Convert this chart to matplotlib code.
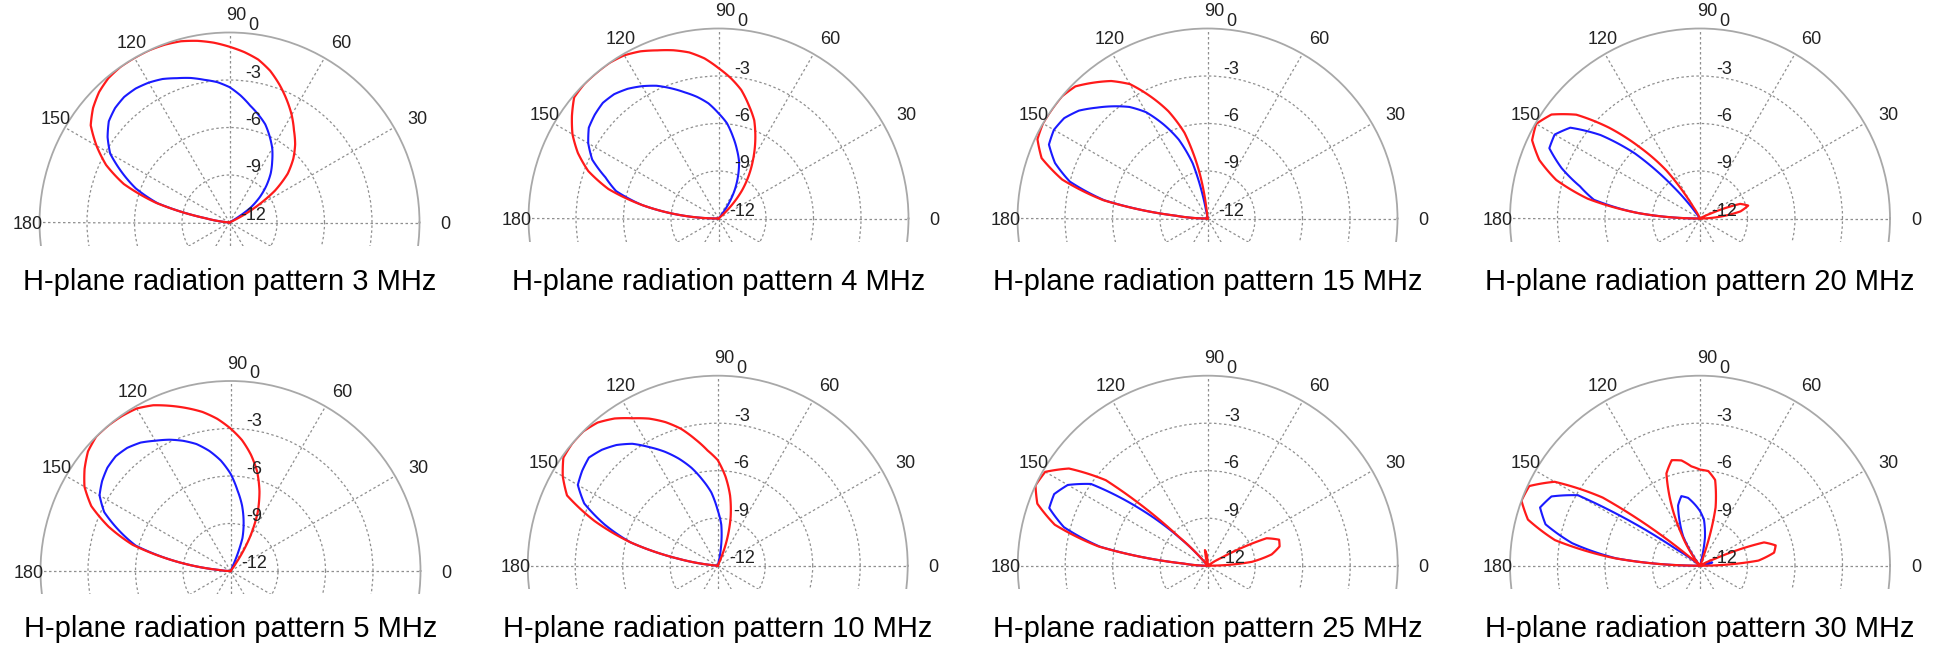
import numpy as np
import matplotlib
matplotlib.use("Agg")
import matplotlib.pyplot as plt
import matplotlib.transforms as mtransforms
from matplotlib.patches import Rectangle

plt.rcParams['font.family'] = ['Liberation Sans', 'DejaVu Sans']

# angle samples (deg) and gain (dB, -12 = centre)
angles = [0, 5, 10, 15, 20, 25, 30, 35, 40, 45, 50, 55, 60, 65, 70, 75, 80, 85, 90,
          95, 100, 105, 110, 115, 120, 125, 130, 135, 140, 145, 150, 155, 160, 165, 170, 175, 180]

red_3 = [-12, -12, -12, -12, -12, -12, -10.3, -8.5, -7.2, -6.3, -5.55, -4.9, -4.15, -3.45, -2.75, -2.08, -1.55, -1.2, -0.9,
         -0.6, -0.35, -0.15, -0.05, 0, 0, 0, -0.1, -0.35, -0.75, -1.3, -2.3, -3.4, -4.9, -7.2, -10.5, -12, -12]
blue_3 = [-12, -12, -12, -12, -12, -12, -12, -10.4, -9.5, -8.7, -7.95, -7.3, -6.6, -6.0, -5.4, -4.95, -4.5, -3.95, -3.45,
          -3.1, -2.85, -2.55, -2.3, -2.0, -1.8, -1.67, -1.65, -1.78, -2.05, -2.6, -3.3, -4.5, -5.7, -7.3, -10.5, -12, -12]

red_4 = [-12, -12, -12, -12, -12, -12, -12, -12, -12, -10.9, -9.7, -8.65, -7.6, -6.5, -5.4, -4.6, -3.75, -3.1, -2.5,
         -1.85, -1.35, -1.0, -0.7, -0.35, -0.1, 0, 0, 0, -0.1, -0.7, -1.35, -2.2, -3.25, -4.8, -7.1, -9.6, -12]
blue_4 = [-12, -12, -12, -12, -12, -12, -12, -12, -12, -12, -12, -11.0, -10.0, -9.1, -8.2, -7.5, -6.75, -5.95, -5.35,
          -4.7, -4.2, -3.75, -3.25, -2.75, -2.35, -2.0, -1.75, -1.67, -1.8, -2.0, -2.5, -3.2, -4.4, -5.3, -7.1, -9.6, -12]

red_15 = [-12, -12, -12, -12, -12, -12, -12, -12, -12, -12, -12, -12, -12, -12, -12, -12, -12, -12, -12,
          -12, -9.0, -6.4, -4.8, -3.5, -2.2, -1.4, -0.8, -0.2, 0, 0, 0, -0.15, -0.85, -2.5, -5.3, -10.0, -12]
blue_15 = [-12, -12, -12, -12, -12, -12, -12, -12, -12, -12, -12, -12, -12, -12, -12, -12, -12, -12, -12,
           -12, -11.5, -8.4, -6.7, -5.45, -4.25, -3.4, -2.75, -2.1, -1.4, -0.95, -0.8, -0.95, -1.75, -3.0, -5.4, -10.0, -12]

red_20 = [-12, -10.8, -9.4, -8.85, -9.3, -11.3, -12, -12, -12, -12, -12, -12, -12, -12, -12, -12, -12, -12, -12,
          -12, -12, -12, -12, -12, -11.2, -8.3, -6.2, -3.9, -1.8, -0.55, -0.05, -0.3, -1.2, -2.6, -4.8, -8.1, -12]
blue_20 = [-12, -12, -12, -12, -12, -12, -12, -12, -12, -12, -12, -12, -12, -12, -12, -12, -12, -12, -12,
           -12, -12, -12, -12, -12, -12, -12, -9.4, -6.2, -3.8, -2.0, -1.4, -1.5, -2.7, -4.15, -5.2, -8.1, -12]

red_5 = [-12, -12, -12, -12, -12, -12, -12, -12, -12, -12, -12, -11.4, -9.6, -7.95, -6.65, -5.5, -4.55, -3.7, -3.0,
         -2.35, -1.8, -1.35, -0.9, -0.45, -0.15, -0.05, 0, 0, -0.25, -0.75, -1.35, -2.3, -3.8, -5.6, -8.5, -11.3, -12]
blue_5 = [-12, -12, -12, -12, -12, -12, -12, -12, -12, -12, -12, -12, -12, -11.8, -9.8, -8.8, -7.8, -6.9, -5.85,
          -5.0, -4.3, -3.7, -3.25, -2.85, -2.5, -2.1, -1.85, -1.75, -1.85, -2.1, -2.45, -3.2, -4.5, -5.8, -8.5, -11.3, -12]

red_10 = [-12, -12, -12, -12, -12, -12, -12, -12, -12, -12, -12, -12, -12, -12, -10.4, -8.85, -7.5, -6.35, -5.33,
          -4.7, -3.9, -3.05, -2.35, -1.75, -1.25, -0.65, -0.2, 0, 0, -0.1, -0.7, -1.5, -3.7, -6.3, -9.5, -12, -12]
blue_10 = [-12, -12, -12, -12, -12, -12, -12, -12, -12, -12, -12, -12, -12, -12, -12, -12, -10.8, -9.4, -8.5,
           -7.35, -6.5, -5.6, -4.8, -4.05, -3.35, -2.6, -2.05, -1.65, -1.38, -1.55, -1.8, -2.7, -4.4, -6.3, -9.5, -12, -12]

red_25 = [-12, -9.2, -7.9, -7.3, -7.2, -7.9, -11.0, -12, -12, -12, -12, -12, -12, -12, -12, -12, -12, -12, -12,
          -11.3, -11.0, -12, -12, -12, -12, -12, -12, -9.4, -3.6, -1.3, -0.15, 0, -0.55, -2.0, -5.0, -10.5, -12]
blue_25 = [-12, -12, -12, -12, -12, -12, -12, -12, -12, -12, -12, -12, -12, -12, -12, -12, -12, -12, -12,
           -12, -12, -12, -12, -12, -12, -12, -12, -9.6, -6.4, -3.0, -1.8, -1.3, -1.35, -2.6, -5.1, -10.5, -12]

red_30 = [-12, -8.3, -7.25, -7.05, -7.7, -11.0, -12, -12, -12, -12, -12, -12, -12, -12, -11.3, -8.2, -6.5, -6.0, -5.93,
          -5.7, -5.25, -5.1, -5.8, -7.7, -9.6, -11.0, -12, -12, -11.2, -4.5, -1.4, -0.1, 0, -0.75, -2.7, -6.6, -12]
blue_30 = [-12, -12, -11.5, -11.2, -11.8, -12, -12, -12, -12, -12, -12, -12, -12, -12, -12, -12, -10.2, -9.1, -8.55,
           -8.1, -7.65, -7.45, -7.95, -9.0, -9.9, -11.3, -12, -12, -12, -10.3, -3.1, -1.65, -1.25, -1.9, -3.8, -6.7, -12]

titles = ["H-plane radiation pattern 3 MHz", "H-plane radiation pattern 4 MHz",
          "H-plane radiation pattern 15 MHz", "H-plane radiation pattern 20 MHz",
          "H-plane radiation pattern 5 MHz", "H-plane radiation pattern 10 MHz",
          "H-plane radiation pattern 25 MHz", "H-plane radiation pattern 30 MHz"]
reds = [red_3, red_4, red_15, red_20, red_5, red_10, red_25, red_30]
blues = [blue_3, blue_4, blue_15, blue_20, blue_5, blue_10, blue_25, blue_30]

ring_ticks = [0, -3, -6, -9, -12]
angle_ticks = [0, 30, 60, 90, 120, 150, 180]

# layout in pixels
W, H = 1935, 647
R = 190
centers = [(229.5, 222.5), (718.5, 218.5), (1207.5, 218.5), (1700, 218.5),
           (230.5, 571), (717.7, 565.7), (1207.7, 565.7), (1700, 565.7)]
title_base = [290, 637]
cut = 23

fig = plt.figure(figsize=(W / 100, H / 100), dpi=100)


def offset(ax, dx, dy):
    return ax.transData + mtransforms.ScaledTranslation(dx / 100, dy / 100, fig.dpi_scale_trans)


for i in range(8):
    cx, cy = centers[i]
    row = i // 4
    ax = fig.add_axes([(cx - R) / W, 1 - (cy + R) / H, 2 * R / W, 2 * R / H], projection='polar')
    ax.set_zorder(1 + 2 * row)
    ax.set_facecolor('none')
    ax.set_rlim(-12, 0)
    ax.set_yticks([-9, -6, -3])
    ax.set_yticklabels([])
    ax.set_xticks(np.radians(np.arange(0, 360, 30)))
    ax.set_xticklabels([])
    ax.grid(True, color='#8f8f8f', linestyle=(0, (2, 2)), linewidth=0.9)
    ax.spines['polar'].set_edgecolor('#a8a8a8')
    ax.spines['polar'].set_linewidth(1.3)

    th = np.radians(angles)
    for vals, col, lw in [(blues[i], '#1a1aff', 1.5), (reds[i], '#ff1a1a', 1.6)]:
        line, = ax.plot(th, vals, color=col, lw=lw, solid_joinstyle='round')
        # draw each segment along the polar grid instead of as a chord
        line.get_path()._interpolation_steps = 12

    for a in angle_ticks:
        ax.text(np.radians(a), 1.2, str(a), transform=offset(ax, 7, -2), ha='center', va='center',
                fontsize=13, color='#222222', clip_on=False)
    for v in ring_ticks:
        ax.text(np.pi / 2, v, str(v), transform=offset(ax, 24, 7), ha='center', va='center',
                fontsize=13, color='#222222', clip_on=False)

    # hide lower half below the cut line
    fig.add_artist(Rectangle(((cx - R - 15) / W, 1 - (cy + R + 12) / H), (2 * R + 30) / W, (R + 12 - cut) / H,
                             transform=fig.transFigure, facecolor='white', edgecolor='none', zorder=2 + 2 * row))
    fig.text(cx / W, 1 - title_base[row] / H, titles[i], ha='center', va='baseline', fontsize=21,
             color='black', zorder=10)

fig.savefig("out.png", dpi=100)
